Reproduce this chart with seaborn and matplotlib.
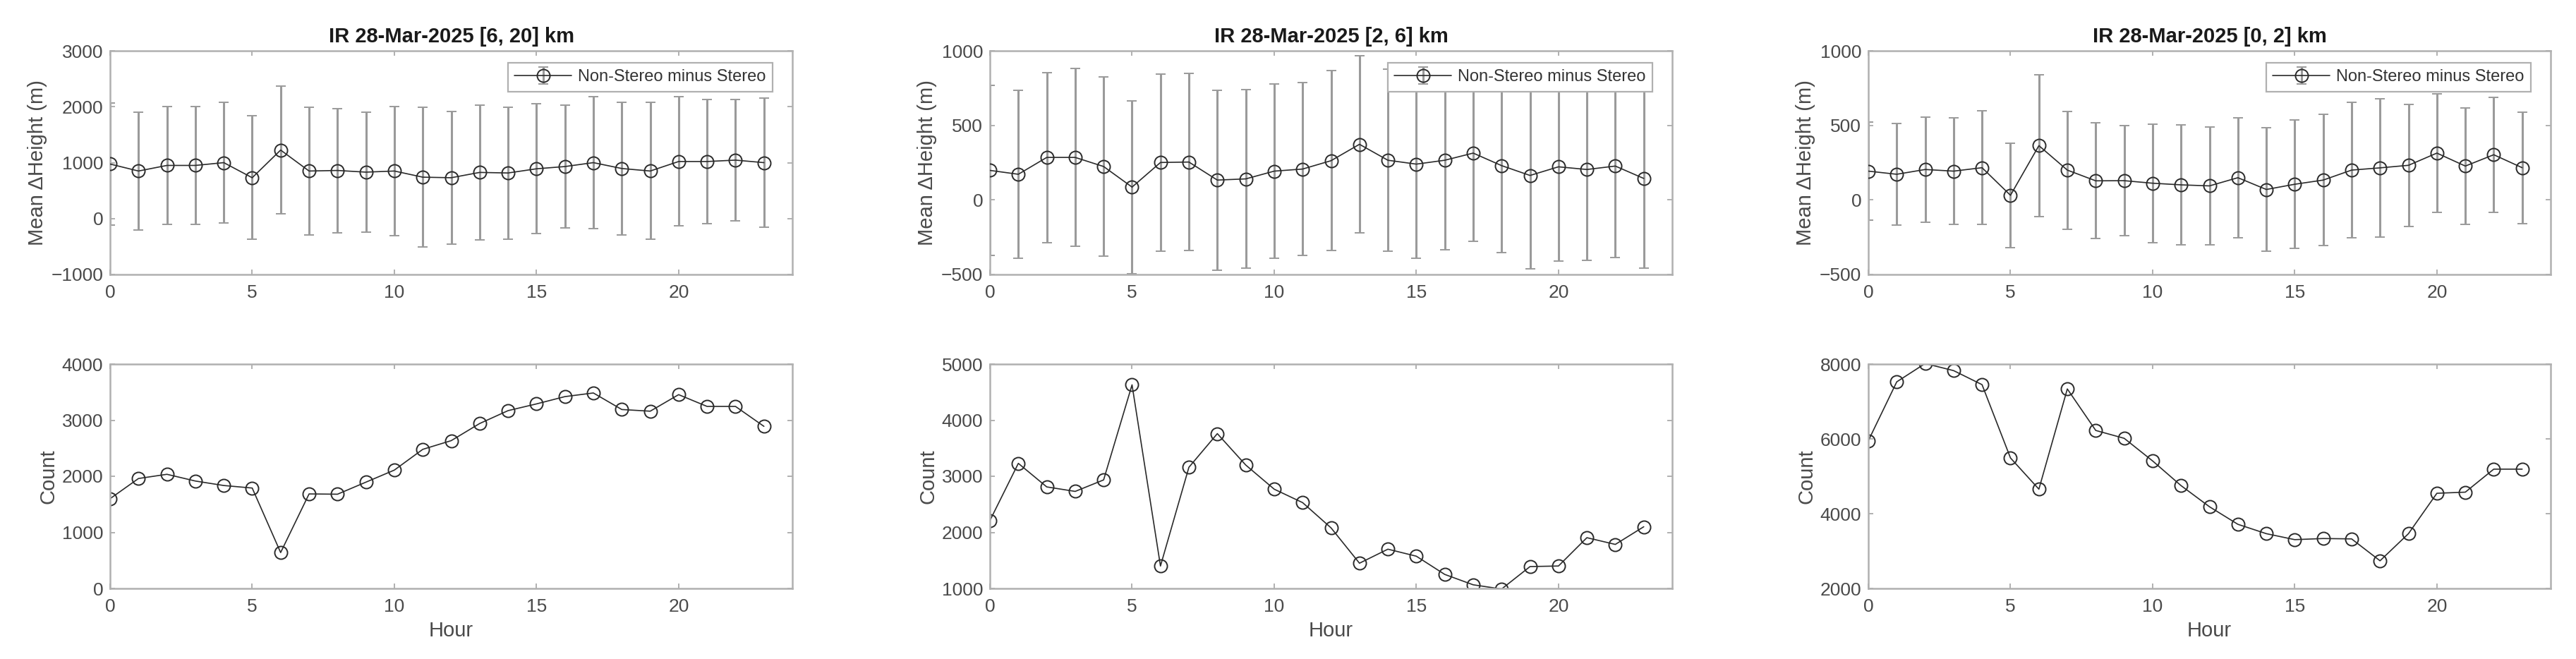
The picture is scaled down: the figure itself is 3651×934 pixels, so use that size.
import numpy as np
import pandas as pd
import matplotlib
matplotlib.use("Agg")
import matplotlib.pyplot as plt
import seaborn as sns

hours = list(range(24))

titles = ["IR 28-Mar-2025 [6, 20] km", "IR 28-Mar-2025 [2, 6] km", "IR 28-Mar-2025 [0, 2] km"]
legend_label = "Non-Stereo minus Stereo"

# Mean height difference (m) and standard deviation (m) per hour
mean_6_20 = [975, 850, 950, 950, 1000, 730, 1225, 850, 860, 830, 850, 740, 730, 825, 815, 890, 930, 1000, 895, 850, 1020, 1020, 1045, 1000]
std_6_20 = [1095, 1050, 1055, 1055, 1080, 1105, 1145, 1145, 1110, 1070, 1150, 1250, 1190, 1205, 1180, 1160, 1095, 1180, 1190, 1225, 1155, 1115, 1090, 1160]

mean_2_6 = [198, 172, 285, 285, 224, 86, 251, 254, 133, 141, 193, 207, 263, 373, 266, 240, 266, 314, 230, 164, 222, 204, 227, 144]
std_2_6 = [572, 565, 570, 595, 602, 579, 593, 594, 604, 598, 585, 579, 603, 593, 612, 629, 601, 590, 584, 625, 634, 608, 613, 600]

mean_0_2 = [193, 172, 204, 193, 216, 31, 364, 200, 128, 129, 112, 101, 94, 149, 70, 105, 133, 200, 215, 232, 314, 227, 303, 216]
std_0_2 = [331, 340, 352, 356, 382, 351, 475, 395, 389, 370, 398, 401, 393, 403, 413, 432, 441, 454, 465, 408, 398, 389, 386, 373]

# Counts per hour
count_6_20 = [1600, 1960, 2035, 1915, 1835, 1790, 640, 1685, 1680, 1895, 2110, 2480, 2635, 2940, 3170, 3290, 3420, 3485, 3190, 3160, 3455, 3245, 3245, 2890]
count_2_6 = [2210, 3230, 2810, 2730, 2935, 4630, 1400, 3160, 3760, 3200, 2770, 2530, 2080, 1450, 1700, 1575, 1250, 1065, 990, 1390, 1400, 1905, 1785, 2100]
count_0_2 = [5950, 7525, 8015, 7825, 7450, 5490, 4655, 7335, 6225, 6015, 5410, 4750, 4185, 3715, 3465, 3305, 3335, 3325, 2740, 3465, 4545, 4575, 5190, 5190]

means = [mean_6_20, mean_2_6, mean_0_2]
stds = [std_6_20, std_2_6, std_0_2]
counts = [count_6_20, count_2_6, count_0_2]

top_ylims = [(-1000, 3000), (-500, 1000), (-500, 1000)]
top_yticks = [[-1000, 0, 1000, 2000, 3000], [-500, 0, 500, 1000], [-500, 0, 500, 1000]]
bot_ylims = [(0, 4000), (1000, 5000), (2000, 8000)]
bot_yticks = [[0, 1000, 2000, 3000, 4000], [1000, 2000, 3000, 4000, 5000], [2000, 4000, 6000, 8000]]
xticks = [0, 5, 10, 15, 20]

sns.set_theme(style="ticks")
plt.rcParams["font.family"] = ["Liberation Sans", "DejaVu Sans"]

W, H = 3651, 934
fig = plt.figure(figsize=(W / 100, H / 100), dpi=100)

lefts = [156, 1403, 2648]
ax_w = 967
spine_c = "#b0b0b0"
text_c = "#4a4a4a"
line_c = "#2a2a2a"
err_c = "#9a9a9a"
tick_fs = 19
label_fs = 21


def style_axes(ax):
    for s in ax.spines.values():
        s.set_color(spine_c)
        s.set_linewidth(1.8)
    ax.tick_params(direction="in", top=True, right=True, length=5, width=1.4,
                   color=spine_c, labelcolor=text_c, labelsize=tick_fs)
    ax.tick_params(axis="x", pad=10)
    ax.tick_params(axis="y", pad=7)
    ax.set_xlim(0, 24)
    ax.set_xticks(xticks)


for i in range(3):
    x0 = lefts[i] / W
    # Top: mean difference with error bars
    ax = fig.add_axes([x0, 1 - 389 / H, ax_w / W, 317 / H])
    df = pd.DataFrame({"Hour": hours, "mean": means[i], "std": stds[i]})
    cont = ax.errorbar(df["Hour"], df["mean"], yerr=df["std"], fmt="o-",
                       color=line_c, lw=1.2, ms=13, mfc="none", mec=line_c, mew=1.4,
                       ecolor=err_c, elinewidth=2.2, capsize=5, capthick=2.2,
                       label=legend_label)
    for bar in cont[2]:
        bar.set_zorder(1)
    cont[0].set_zorder(3)
    style_axes(ax)
    ax.set_ylim(*top_ylims[i])
    ax.set_yticks(top_yticks[i])
    ax.set_ylabel("Mean \u0394Height (m)", fontsize=label_fs, color=text_c, labelpad=4)
    ax.set_xlabel("")
    ax.set_title(titles[i], fontsize=21, fontweight="bold", color="#1a1a1a", pad=9)
    leg = ax.legend(loc="upper right", bbox_to_anchor=(0.971, 0.947), borderaxespad=0,
                    fontsize=17, frameon=True, fancybox=False, handlelength=3.4,
                    borderpad=0.4, handletextpad=0.4)
    leg.get_frame().set_edgecolor(spine_c)
    leg.get_frame().set_linewidth(1.6)
    leg.get_frame().set_alpha(1)
    for t in leg.get_texts():
        t.set_color("#333333")

    # Bottom: counts
    axb = fig.add_axes([x0, 1 - 834 / H, ax_w / W, 318 / H])
    dfc = pd.DataFrame({"Hour": hours, "Count": counts[i]})
    sns.lineplot(data=dfc, x="Hour", y="Count", ax=axb, color=line_c, lw=1.2,
                 marker="o", ms=13, mfc="none", mec=line_c, mew=1.4)
    style_axes(axb)
    axb.set_ylim(*bot_ylims[i])
    axb.set_yticks(bot_yticks[i])
    axb.set_ylabel("Count", fontsize=label_fs, color=text_c, labelpad=4)
    axb.set_xlabel("Hour", fontsize=label_fs, color=text_c, labelpad=6)

fig.savefig("out.png", dpi=100, facecolor="white")
